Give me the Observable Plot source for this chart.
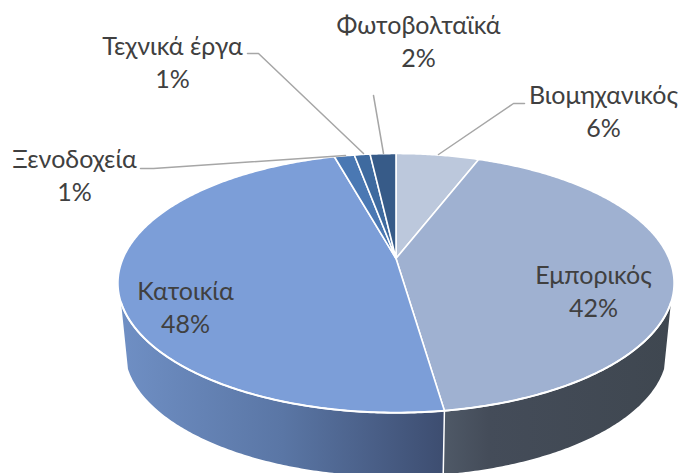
<!DOCTYPE html>
<html>
<head>
<meta charset="utf-8">
<style>html,body{margin:0;padding:0;background:#fff}svg{display:block}</style>
<script src="https://cdn.jsdelivr.net/npm/d3@7"></script>
<script src="https://cdn.jsdelivr.net/npm/@observablehq/plot@0.6"></script>
</head>
<body>
<div id="chart"></div>
<script>
// Data (share of total, %), clockwise from twelve o'clock
const names = ["Βιομηχανικός", "Εμπορικός", "Κατοικία", "Ξενοδοχεία", "Τεχνικά έργα", "Φωτοβολταϊκά"];
const values = [5.8, 41.9, 48.0, 1.4, 1.1, 1.8];
const shownPct = ["6%", "42%", "48%", "1%", "1%", "2%"];

// Styles
const topColors = ["#bcc8dc", "#9fb1d1", "#7c9ed8", "#4a78b3", "#3e6a9f", "#375b88"];
const wallFills = ["#3a4350", "url(#wallB)", "url(#wallA)", "#2f5488", "#2f5488", "#2f5488"];

// Layout: page pixels of the hub and the perspective of the disc
const W = 679, H = 473, hubX = 395.5, hubY = 258, a = 273, b = 124.9, k = 0.19;
const shrink = 0.975, drop = 67.5 / b;
const front = [109.3 * Math.PI / 180, 250.7 * Math.PI / 180];
const ux = p => (p - hubX) / a, uy = p => (hubY - p) / b;
const labelPos = [[603, 109], [593, 289], [185, 305], [74, 173], [172, 60], [418, 39]];
const leaders = [
  [[524, 103], [513, 103], [438, 154]],
  [[140, 168], [153, 168], [345, 155]],
  [[247, 53], [258, 53], [363, 153]],
  [[373, 95], [383, 153]]
];

// Projection of a disc angle (clockwise from top) into chart units
const proj = (t, lower) => {
  const X = Math.sin(t), Y = Math.cos(t), w = 1 + k * Y;
  return lower
    ? {x: shrink * X / w, y: shrink * Y / w - drop}
    : {x: X / w, y: Y / w};
};
const arc = (t0, t1, lower) => {
  const n = Math.max(2, Math.ceil(Math.abs(t1 - t0) / 0.01));
  return d3.range(n + 1).map(i => proj(t0 + (t1 - t0) * i / n, lower));
};

const arcs = d3.pie().sort(null).value(d => d)(values);
const slices = arcs.map((d, i) => {
  const c = {x: 0, y: 0};
  return {i, points: [c, ...arc(d.startAngle, d.endAngle, false), c]};
});
const walls = arcs.map((d, i) => {
  const t0 = Math.max(d.startAngle, front[0]), t1 = Math.min(d.endAngle, front[1]);
  if (t1 <= t0) return null;
  return {i, points: [...arc(t0, t1, false), ...arc(t1, t0, true)]};
}).filter(Boolean);
const seam = arcs.map(d => d.endAngle).filter(t => t > front[0] && t < front[1])
  .map(t => [proj(t, false), proj(t, true)]);
const rim = arc(front[0], front[1], false);

const gradients = () => {
  const defs = d3.create("svg:defs");
  const add = (id, stops) => {
    const g = defs.append("linearGradient").attr("id", id);
    stops.forEach(([o, c]) => g.append("stop").attr("offset", o).attr("stop-color", c));
  };
  add("wallA", [[0, "#6f8fc4"], [0.5, "#5a76a5"], [1, "#3d4d70"]]);
  add("wallB", [[0, "#4f5967"], [0.2, "#444c59"], [1, "#3f4750"]]);
  return defs.node();
};

const chart = Plot.plot({
  width: W, height: H,
  margin: 0,
  style: {background: "white", overflow: "hidden"},
  x: {domain: [ux(0), ux(W)], range: [0, W], axis: null},
  y: {domain: [uy(0), uy(H)], range: [0, H], axis: null},
  marks: [
    gradients,
    ...walls.map(w => Plot.line(w.points, {x: "x", y: "y", fill: wallFills[w.i], stroke: "none"})),
    ...seam.map(s => Plot.line(s, {x: "x", y: "y", stroke: "#fff", strokeWidth: 1.5})),
    ...slices.map(s => Plot.line(s.points, {x: "x", y: "y", fill: topColors[s.i], stroke: "#fff", strokeWidth: 1.6})),
    Plot.line(rim, {x: "x", y: "y", stroke: "#fff", strokeWidth: 2}),
    ...leaders.map(l => Plot.line(l, {x: d => ux(d[0]), y: d => uy(d[1]), stroke: "#a6a6a6", strokeWidth: 1.5, strokeLinejoin: "miter"})),
    Plot.text(names.map((n, i) => i), {
      x: i => ux(labelPos[i][0]),
      y: i => uy(labelPos[i][1]),
      text: i => names[i] + "\n" + shownPct[i],
      fontFamily: "Lato, 'Open Sans', sans-serif",
      fontSize: 25,
      lineHeight: 1.32,
      fill: "#404040"
    })
  ]
});
document.getElementById("chart").append(chart);
</script>
</body>
</html>
